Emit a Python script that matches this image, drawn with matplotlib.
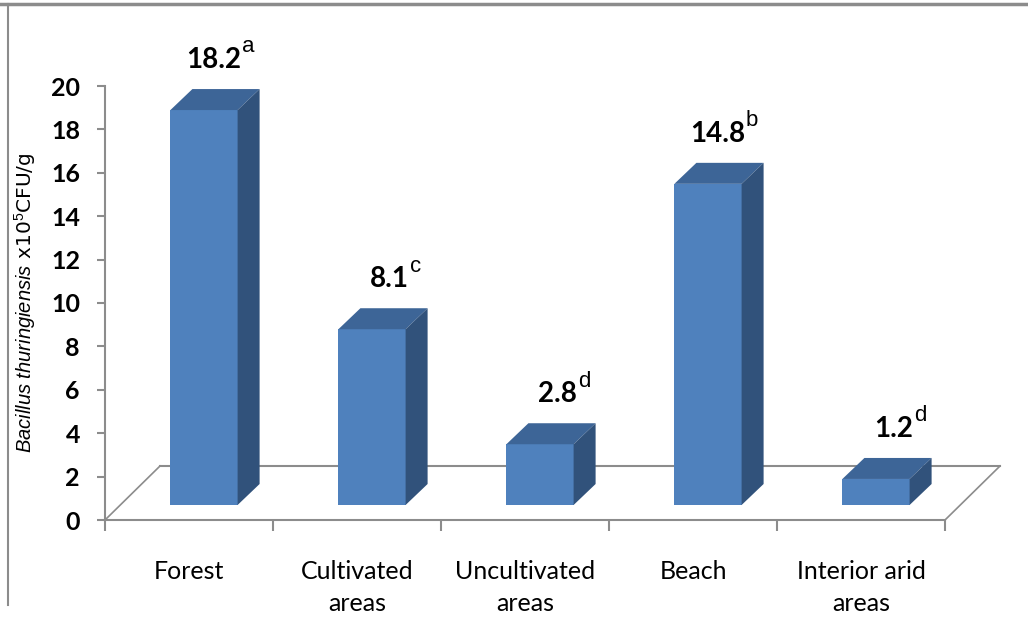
import numpy as np
import matplotlib
matplotlib.use('Agg')
import matplotlib.pyplot as plt
from matplotlib.patches import Polygon
from matplotlib.lines import Line2D

categories = ['Forest', 'Cultivated\nareas', 'Uncultivated\nareas', 'Beach', 'Interior arid\nareas']
values = [18.2, 8.1, 2.8, 14.8, 1.2]
letters = ['a', 'c', 'd', 'b', 'd']

plt.rcParams['mathtext.fontset'] = 'custom'
plt.rcParams['mathtext.rm'] = 'Liberation Sans'
plt.rcParams['mathtext.it'] = 'Liberation Sans:italic'
narrow = ['Lato', 'DejaVu Sans']

front_c = '#4f81bd'
top_c = '#3d6597'
side_c = '#31527b'
grid_c = '#8c8c8c'

W, H = 1028, 642
fig = plt.figure(figsize=(W / 100, H / 100), dpi=100)
# plot box in pixels: x 105..945, y 86..520
ax = fig.add_axes([105 / W, (H - 520) / H, 840 / W, 434 / H])
ax.set_xlim(0, 5)
ax.set_ylim(0, 20)
px_x = 5 / 840
px_y = 20 / 434

# depth of the floor and position of bars within it
DX, DY = 55 * px_x, 54 * px_y
ox, oy = 15 * px_x, 15 * px_y
sx, sy = 22 * px_x, 21 * px_y
bw = 0.4

x = np.arange(len(values)) + 0.5

# floor outline
ax.plot([DX, 5 + DX], [DY, DY], color=grid_c, lw=1.5, clip_on=False, zorder=1)
ax.plot([0, DX], [0, DY], color=grid_c, lw=1.2, clip_on=False, zorder=1)
ax.plot([5, 5 + DX], [0, DY], color=grid_c, lw=1.2, clip_on=False, zorder=1)

ax.bar(x + ox, values, width=bw, bottom=oy, color=front_c, zorder=3)
for xi, v, let in zip(x, values, letters):
    x0 = xi + ox - bw / 2
    x1 = xi + ox + bw / 2
    top = oy + v
    ax.add_patch(Polygon([(x0, top), (x1, top), (x1 + sx, top + sy), (x0 + sx, top + sy)],
                         closed=True, facecolor=top_c, edgecolor='none', zorder=3, clip_on=False))
    ax.add_patch(Polygon([(x1, oy), (x1 + sx, oy + sy), (x1 + sx, top + sy), (x1, top)],
                         closed=True, facecolor=side_c, edgecolor='none', zorder=3, clip_on=False))
    ax.text(xi + 0.31, v + 3.0, f'{v:.1f}', ha='right', va='center', fontsize=20,
            fontweight='bold', family=narrow, clip_on=False)
    ax.text(xi + 0.315, v + 3.6, let, ha='left', va='center', fontsize=16,
            family='Liberation Sans', clip_on=False)

for s in ['top', 'right']:
    ax.spines[s].set_visible(False)
for s in ['left', 'bottom']:
    ax.spines[s].set_color(grid_c)
    ax.spines[s].set_linewidth(1.5)

ax.set_yticks(np.arange(0, 21, 2))
ax.set_yticklabels([str(t) for t in range(0, 21, 2)], fontsize=18, fontweight='bold', family=narrow)
ax.tick_params(axis='y', length=6, width=1.5, color=grid_c, pad=12)
ax.set_xticks(np.arange(0, 6))
ax.set_xticklabels([])
ax.set_xticks(x, minor=True)
ax.set_xticklabels(categories, minor=True, fontsize=18, family=narrow, linespacing=1.45)
ax.tick_params(axis='x', which='major', length=8, width=1.5, color=grid_c)
ax.tick_params(axis='x', which='minor', length=0, pad=29)
ax.set_ylabel(r'$\it{Bacillus\ thuringiensis}$ x10$^5$CFU/g', fontsize=14.5, labelpad=9)

# outer frame pieces
fig.add_artist(Line2D([0, 1], [1 - 4 / H, 1 - 4 / H], color=grid_c, lw=2.5))
fig.add_artist(Line2D([8 / W, 8 / W], [1 - 4 / H, 1 - 605 / H], color=grid_c, lw=1.5))

fig.savefig('out.png', dpi=100)
